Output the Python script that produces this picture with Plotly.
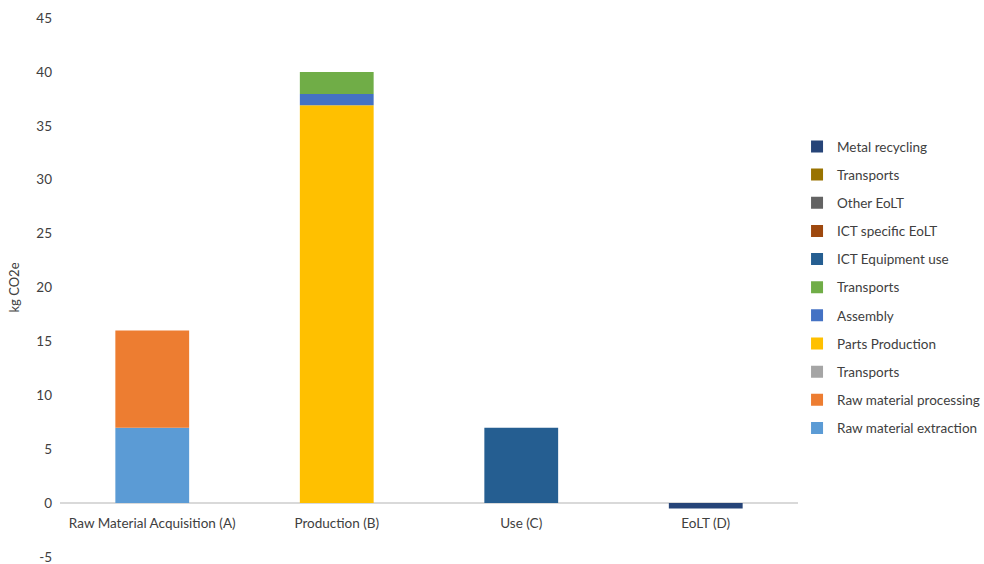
import plotly.graph_objects as go

categories = ["Raw Material Acquisition (A)", "Production (B)", "Use (C)", "EoLT (D)"]

series_names = ["Raw material extraction", "Raw material processing", "Transports",
                "Parts Production", "Assembly", "Transports",
                "ICT Equipment use", "ICT specific EoLT", "Other EoLT", "Transports",
                "Metal recycling"]
series_values = [
    [7.0, 0, 0, 0],
    [9.0, 0, 0, 0],
    [0, 0, 0, 0],
    [0, 36.9, 0, 0],
    [0, 1.05, 0, 0],
    [0, 2.05, 0, 0],
    [0, 0, 7.0, 0],
    [0, 0, 0, 0],
    [0, 0, 0, 0],
    [0, 0, 0, 0],
    [0, 0, 0, -0.5],
]
series_colors = ["#5B9BD5", "#ED7D31", "#A5A5A5", "#FFC000", "#4472C4", "#70AD47",
                 "#255E91", "#9E480E", "#636363", "#997300", "#264478"]

y_ticks = [-5, 0, 5, 10, 15, 20, 25, 30, 35, 40, 45]
y_tick_labels = ["-5", "0", "5", "10", "15", "20", "25", "30", "35", "40", "45"]

fig = go.Figure()
n = len(series_names)
for i, (name, vals, col) in enumerate(zip(series_names, series_values, series_colors)):
    fig.add_trace(go.Bar(name=name, x=categories, y=vals, marker_color=col,
                         marker_line_width=0, legendgroup=f"g{i}",
                         legendrank=100 + (n - i)))

font_family = "Lato, 'Liberation Sans', sans-serif"
fig.update_layout(
    barmode="relative",
    bargap=0.6,
    width=984, height=564,
    margin=dict(l=60, r=186, t=18, b=7, autoexpand=False),
    plot_bgcolor="white", paper_bgcolor="white",
    font=dict(family=font_family, size=13.5, color="#404040"),
    legend=dict(traceorder="grouped", tracegroupgap=7.6,
                x=0.81, xref="container", y=0.79, yanchor="top",
                xanchor="left",
                font=dict(size=13.5, color="#404040"),
                itemwidth=30),
    showlegend=True,
)
fig.update_yaxes(range=[-5, 45], tickvals=y_ticks, ticktext=y_tick_labels,
                 showgrid=False, zeroline=True,
                 zerolinecolor="#D9D9D9", zerolinewidth=1.5, showline=False,
                 anchor="free", position=0, ticklabeloverflow="allow",
                 title=dict(text="kg CO2e", standoff=12, font=dict(size=13)),
                 ticks="", ticklabelstandoff=8)
fig.update_xaxes(anchor="free", position=0.1, showline=False, ticks="",
                 showgrid=False, ticklabelstandoff=10)

fig.write_html("out.html")
